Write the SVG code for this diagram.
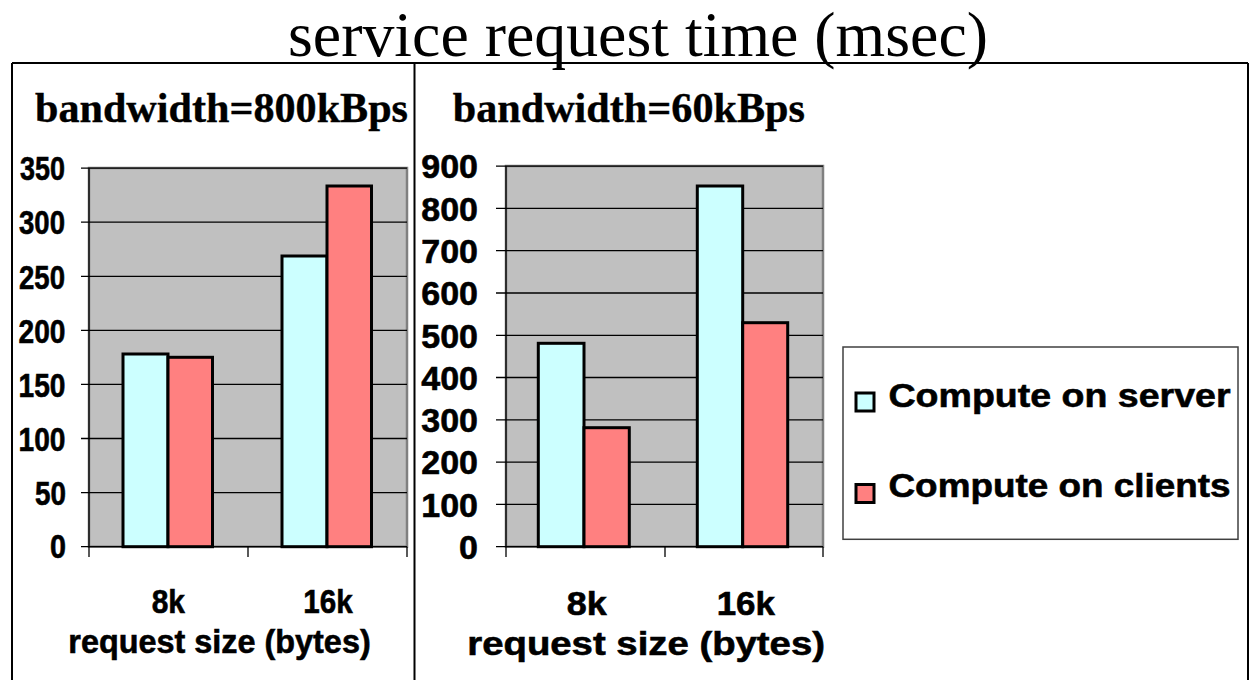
<svg xmlns="http://www.w3.org/2000/svg" width="1254" height="680" viewBox="0 0 1254 680">
  <style>
    .title { font-family: "Liberation Serif", "Times New Roman", serif; font-size: 63px; fill: #000; }
    .sub { font-family: "Liberation Serif", "Times New Roman", serif; font-size: 43px; font-weight: bold; fill: #000; stroke: #000; stroke-width: 0.4; }
    .lbl { font-family: "Liberation Sans", Arial, sans-serif; font-size: 34px; font-weight: bold; fill: #000; stroke: #000; stroke-width: 0.6; }
    .leg { font-family: "Liberation Sans", Arial, sans-serif; font-size: 34px; font-weight: bold; fill: #000; stroke: #000; stroke-width: 0.6; }
    .frame { stroke: #000; stroke-width: 2; fill: none; }
    .plot { fill: #C0C0C0; stroke: #808080; stroke-width: 2.5; }
    .grid { stroke: #000; stroke-width: 1.3; }
    .axis { stroke: #000; stroke-width: 1.3; fill: none; }
    .server { fill: #CCFFFF; stroke: #000; stroke-width: 3; }
    .client { fill: #FF8080; stroke: #000; stroke-width: 3; }
  </style>

  <rect x="0" y="0" width="1254" height="680" fill="#fff"/>

  <!-- page title -->
  <text class="title" x="288" y="56" textLength="700" lengthAdjust="spacingAndGlyphs">service request time (msec)</text>

  <!-- outer frame and divider -->
  <g id="frame">
    <line class="frame" x1="12" y1="63" x2="1248" y2="63"/>
    <line class="frame" x1="12" y1="63" x2="12" y2="680"/>
    <line class="frame" x1="414.5" y1="63" x2="414.5" y2="680"/>
    <line class="frame" x1="1248" y1="63" x2="1248" y2="680"/>
  </g>

  <!-- chart: bandwidth = 800 kBps -->
  <g id="chart-800">
    <text class="sub" x="35" y="121.7" textLength="373" lengthAdjust="spacingAndGlyphs">bandwidth=800kBps</text>
    <rect class="plot" x="89" y="168" width="318" height="378.7"/>
    <g id="grid-800">
      <line class="grid" x1="81" y1="168.1" x2="407" y2="168.1"/>
      <line class="grid" x1="81" y1="222.2" x2="407" y2="222.2"/>
      <line class="grid" x1="81" y1="276.3" x2="407" y2="276.3"/>
      <line class="grid" x1="81" y1="330.4" x2="407" y2="330.4"/>
      <line class="grid" x1="81" y1="384.4" x2="407" y2="384.4"/>
      <line class="grid" x1="81" y1="438.5" x2="407" y2="438.5"/>
      <line class="grid" x1="81" y1="492.6" x2="407" y2="492.6"/>
    </g>
    <g id="bars-800">
      <rect class="server" x="123" y="354" width="45" height="192.7"/>
      <rect class="client" x="168" y="357.3" width="44.5" height="189.4"/>
      <rect class="server" x="282" y="256" width="45" height="290.7"/>
      <rect class="client" x="327" y="186" width="44.5" height="360.7"/>
    </g>
    <g id="axes-800">
      <line class="axis" x1="89" y1="168" x2="89" y2="557"/>
      <line class="axis" x1="81" y1="546.7" x2="407" y2="546.7"/>
      <line class="axis" x1="248" y1="546.7" x2="248" y2="557"/>
      <line class="axis" x1="407" y1="546.7" x2="407" y2="557"/>
    </g>
    <g id="ylabels-800">
      <text class="lbl" x="20" y="180.3" textLength="45" lengthAdjust="spacingAndGlyphs">350</text>
      <text class="lbl" x="19" y="234.4" textLength="46" lengthAdjust="spacingAndGlyphs">300</text>
      <text class="lbl" x="19" y="288.5" textLength="46" lengthAdjust="spacingAndGlyphs">250</text>
      <text class="lbl" x="18.5" y="342.6" textLength="47" lengthAdjust="spacingAndGlyphs">200</text>
      <text class="lbl" x="18.5" y="396.6" textLength="47" lengthAdjust="spacingAndGlyphs">150</text>
      <text class="lbl" x="18.5" y="450.7" textLength="47" lengthAdjust="spacingAndGlyphs">100</text>
      <text class="lbl" x="35" y="504.8" textLength="31" lengthAdjust="spacingAndGlyphs">50</text>
      <text class="lbl" x="50" y="558" textLength="16" lengthAdjust="spacingAndGlyphs">0</text>
    </g>
    <g id="xlabels-800">
      <text class="lbl" x="151.7" y="613.3" textLength="33.3" lengthAdjust="spacingAndGlyphs">8k</text>
      <text class="lbl" x="303.3" y="613.3" textLength="49.4" lengthAdjust="spacingAndGlyphs">16k</text>
      <text class="lbl" x="68.3" y="653.3" textLength="302.4" lengthAdjust="spacingAndGlyphs">request size (bytes)</text>
    </g>
  </g>

  <!-- chart: bandwidth = 60 kBps -->
  <g id="chart-60">
    <text class="sub" x="452.7" y="121.7" textLength="352.3" lengthAdjust="spacingAndGlyphs">bandwidth=60kBps</text>
    <rect class="plot" x="506" y="166" width="317" height="380.7"/>
    <g id="grid-60">
      <line class="grid" x1="496" y1="166.1" x2="823" y2="166.1"/>
      <line class="grid" x1="496" y1="208.4" x2="823" y2="208.4"/>
      <line class="grid" x1="496" y1="250.7" x2="823" y2="250.7"/>
      <line class="grid" x1="496" y1="293" x2="823" y2="293"/>
      <line class="grid" x1="496" y1="335.3" x2="823" y2="335.3"/>
      <line class="grid" x1="496" y1="377.5" x2="823" y2="377.5"/>
      <line class="grid" x1="496" y1="419.8" x2="823" y2="419.8"/>
      <line class="grid" x1="496" y1="462.1" x2="823" y2="462.1"/>
      <line class="grid" x1="496" y1="504.4" x2="823" y2="504.4"/>
    </g>
    <g id="bars-60">
      <rect class="server" x="538.3" y="343.3" width="45.7" height="203.4"/>
      <rect class="client" x="584" y="427.7" width="45.3" height="119"/>
      <rect class="server" x="697.3" y="186" width="45.4" height="360.7"/>
      <rect class="client" x="742.7" y="322.7" width="45" height="224"/>
    </g>
    <g id="axes-60">
      <line class="axis" x1="506" y1="166" x2="506" y2="557"/>
      <line class="axis" x1="496" y1="546.7" x2="823" y2="546.7"/>
      <line class="axis" x1="665" y1="546.7" x2="665" y2="557"/>
      <line class="axis" x1="823" y1="546.7" x2="823" y2="557"/>
    </g>
    <g id="ylabels-60" text-anchor="end">
      <text class="lbl" x="478" y="178.3">900</text>
      <text class="lbl" x="478" y="220.6">800</text>
      <text class="lbl" x="478" y="262.9">700</text>
      <text class="lbl" x="478" y="305.2">600</text>
      <text class="lbl" x="478" y="347.5">500</text>
      <text class="lbl" x="478" y="389.7">400</text>
      <text class="lbl" x="478" y="432">300</text>
      <text class="lbl" x="478" y="474.3">200</text>
      <text class="lbl" x="478" y="516.6">100</text>
      <text class="lbl" x="478" y="558.8">0</text>
    </g>
    <g id="xlabels-60">
      <text class="lbl" x="566.7" y="615" textLength="40" lengthAdjust="spacingAndGlyphs">8k</text>
      <text class="lbl" x="716.7" y="615" textLength="58.3" lengthAdjust="spacingAndGlyphs">16k</text>
      <text class="lbl" x="467.3" y="655" textLength="357.7" lengthAdjust="spacingAndGlyphs">request size (bytes)</text>
    </g>
  </g>

  <!-- legend -->
  <g id="legend">
    <rect x="843" y="347" width="395" height="192.3" fill="#fff" stroke="#404040" stroke-width="1.5"/>
    <g id="legend-server">
      <rect class="server" x="856" y="393" width="18" height="18" stroke-width="2.5"/>
      <text class="leg" x="888.5" y="406.7" textLength="342" lengthAdjust="spacingAndGlyphs">Compute on server</text>
    </g>
    <g id="legend-client">
      <rect class="client" x="856" y="484.5" width="18" height="18" stroke-width="2.5"/>
      <text class="leg" x="888.5" y="496.7" textLength="342" lengthAdjust="spacingAndGlyphs">Compute on clients</text>
    </g>
  </g>
</svg>
